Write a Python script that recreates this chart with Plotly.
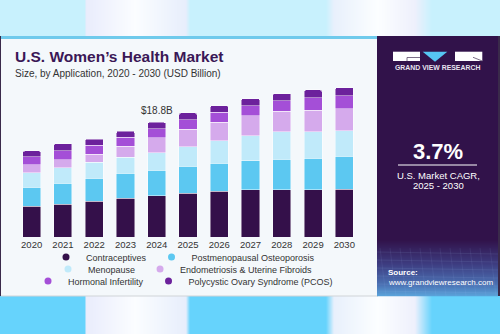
import plotly.graph_objects as go

# U.S. women's health market by application, USD billion
years = ["2020", "2021", "2022", "2023", "2024", "2025",
         "2026", "2027", "2028", "2029", "2030"]
contraceptives = [5.08, 5.41, 5.85, 6.39, 6.73, 7.16, 7.54, 7.77, 7.77, 7.77, 7.82]
osteoporosis = [3.11, 3.44, 3.82, 4.05, 4.21, 4.48, 4.54, 4.69, 4.97, 5.13, 5.41]
menopause = [2.36, 2.51, 2.57, 2.67, 2.90, 3.18, 3.66, 4.10, 4.48, 4.38, 4.21]
endometriosis = [1.26, 1.31, 1.36, 1.80, 2.41, 2.84, 3.07, 3.28, 3.39, 3.49, 3.61]
hormonal = [1.31, 1.48, 1.48, 1.48, 1.52, 1.59, 1.64, 1.70, 1.75, 2.02, 2.07]
pcos = [0.98, 1.15, 0.98, 0.98, 1.03, 1.08, 1.10, 1.15, 1.15, 1.31, 1.38]

series_names = ["Contraceptives", "Postmenopausal Osteoporosis", "Menopause",
                "Endometriosis & Uterine Fibroids", "Hormonal Infertility",
                "Polycystic Ovary Syndrome (PCOS)"]
series_values = [contraceptives, osteoporosis, menopause, endometriosis, hormonal, pcos]
series_colors = ["#34104a", "#5cc8f1", "#c0eafa", "#d5aaec", "#a44fd7", "#6c219c"]
legend_rows = ["legend", "legend", "legend2", "legend2", "legend3", "legend3"]

highlight_year = "2024"
highlight_idx = years.index(highlight_year)
highlight_total = sum(v[highlight_idx] for v in series_values)

FONT = "Liberation Sans"
W, H = 500, 334
ML, MR, MT, MB = 16, 140, 80, 97
PW, PH = W - ML - MR, H - MT - MB
PX_PER_UNIT = 6.1
y_max = PH / PX_PER_UNIT


def px(x):
    return (x - ML) / PW


def py(y):
    return 1 - (y - MT) / PH


def hex_rgb(c):
    c = c.lstrip("#")
    return tuple(int(c[i:i + 2], 16) for i in (0, 2, 4))


def mix(c1, c2, t):
    a, b = hex_rgb(c1), hex_rgb(c2)
    return "rgb(%d,%d,%d)" % tuple(round(a[i] + (b[i] - a[i]) * t) for i in range(3))


def rect(x0, y0, x1, y1, color):
    return dict(type="rect", xref="paper", yref="paper", layer="below",
                x0=px(x0), x1=px(x1), y0=py(y0), y1=py(y1),
                fillcolor=color, line=dict(width=0))


def hgradient(stops, y0, y1):
    """Horizontal colour band built from 1px strips between colour stops."""
    out = []
    for (xa, ca), (xb, cb) in zip(stops[:-1], stops[1:]):
        if ca == cb:
            out.append(rect(xa, y0, xb, y1, ca))
            continue
        for i in range(int(xb - xa)):
            out.append(rect(xa + i, y0, xa + i + 1.2, y1, mix(ca, cb, (i + 0.5) / (xb - xa))))
    return out


def vgradient(stops, x0, x1):
    out = []
    for (ya, ca), (yb, cb) in zip(stops[:-1], stops[1:]):
        for i in range(int(yb - ya)):
            out.append(rect(x0, ya + i, x1, ya + i + 1.2, mix(ca, cb, (i + 0.5) / (yb - ya))))
    return out


shapes = []
top_cyan, bot_cyan = "#c8f1fd", "#66d3fc"
for cyan, y0, y1 in [(top_cyan, 0, 36), (bot_cyan, 296, 334)]:
    stops = [(0, cyan), (85, cyan), (86, "#e9ecfc"), (135, "#fbfdff"),
             (186, "#e7eefc"), (190, cyan), (326, cyan), (334, "#e8f0fc"),
             (378, "#fcfeff"), (415, "#eef0fc"), (432, cyan), (500, cyan)]
    shapes += hgradient(stops, y0, y1)

# side strips and white card
shapes.append(rect(0, 36, 500, 296, "#3a2a4a"))
shapes.append(rect(1, 39, 378, 296, "#f4f8fb"))
shapes.append(rect(1, 36, 378, 39, "#6fcaec"))
shapes.append(rect(1, 295.5, 378, 296.5, "#cfd3d8"))

# dark side panel
panel_dark = "#31124a"
shapes.append(rect(377, 36, 498, 240, panel_dark))
shapes += vgradient([(240, panel_dark), (264, "#3d3c80"), (285, "#4b72b4"), (296, "#5aa3da")], 377, 498)
for gy in [252, 260, 268, 276, 284, 291]:
    shapes.append(dict(type="line", xref="paper", yref="paper", layer="below",
                       x0=px(377), x1=px(498), y0=py(gy), y1=py(gy + 2),
                       line=dict(color="rgba(160,190,240,0.18)", width=0.6)))
for gx in range(380, 498, 10):
    shapes.append(dict(type="line", xref="paper", yref="paper", layer="below",
                       x0=px(gx), x1=px(gx + 6), y0=py(248), y1=py(296),
                       line=dict(color="rgba(160,190,240,0.15)", width=0.6)))

# logo blocks
shapes.append(rect(393, 51.7, 420, 61, "white"))
shapes.append(dict(type="path", xref="paper", yref="paper", layer="below",
                   path="M %f,%f L %f,%f L %f,%f Z" % (px(422.7), py(51.7), px(447.3), py(51.7), px(435), py(61.7)),
                   fillcolor="#56c5f2", line=dict(width=0)))
shapes.append(rect(455, 51.7, 482.3, 61, "white"))
shapes.append(dict(type="path", xref="paper", yref="paper", layer="below",
                   path="M %f,%f L %f,%f L %f,%f" % (px(407), py(61), px(407), py(57.5), px(420), py(57.5)),
                   line=dict(color="#5a4a6a", width=0.8)))
shapes.append(dict(type="line", xref="paper", yref="paper", layer="below",
                   x0=px(473), y0=py(57.3), x1=px(482.3), y1=py(61),
                   line=dict(color="#5a4a6a", width=0.8)))
# rule under the growth figure
shapes.append(dict(type="line", xref="paper", yref="paper", layer="above",
                   x0=px(398), x1=px(477), y0=py(165), y1=py(165),
                   line=dict(color="white", width=1)))

fig = go.Figure()
for name, vals, color in zip(series_names, series_values, series_colors):
    fig.add_trace(go.Bar(
        x=years, y=vals, name=name,
        marker=dict(color=color, line=dict(color="rgba(255,255,255,0.65)", width=0.7)),
        showlegend=False, legendgroup=name, hoverinfo="x+y+name"))

# round legend keys live on a hidden helper axis pair
for name, color, lg in zip(series_names, series_colors, legend_rows):
    fig.add_trace(go.Scatter(
        x=[None], y=[None], mode="markers", name=name, legend=lg, legendgroup=name,
        xaxis="x2", yaxis="y2", hoverinfo="skip",
        marker=dict(color=color, size=7, symbol="circle")))


def ann(x, y, text, size, color="white", bold=False, xanchor="center"):
    if bold:
        text = "<b>%s</b>" % text
    return dict(xref="paper", yref="paper", x=px(x), y=py(y), text=text, showarrow=False,
                xanchor=xanchor, yanchor="middle", font=dict(family=FONT, size=size, color=color))


annotations = [
    ann(13, 56.5, "U.S. Women’s Health Market", 15.5, "#3a1756", True, "left"),
    ann(13, 73, "Size, by Application, 2020 - 2030 (USD Billion)", 10, "#333333", False, "left"),
    ann(437.5, 67, "GRAND VIEW RESEARCH", 6.9, "#e8e4f0", True),
    ann(438, 151.5, "3.7%", 22, "white", True),
    ann(438, 175.5, "U.S. Market CAGR,", 9.5, "white"),
    ann(438, 185.5, "2025 - 2030", 9.5, "white"),
    ann(386, 272, "Source:", 8, "white", True, "left"),
    ann(386, 282, "www.grandviewresearch.com", 8, "white", False, "left"),
    # total label above the highlighted year's stack
    dict(x=highlight_idx, y=highlight_total, xref="x", yref="y", text="$%.1fB" % highlight_total,
         showarrow=False, yanchor="bottom", yshift=4,
         font=dict(family=FONT, size=10, color="#333333")),
]

legend_common = dict(orientation="h", xref="container", yref="container", x=183 / W,
                     xanchor="center", yanchor="middle", bgcolor="rgba(0,0,0,0)",
                     font=dict(family=FONT, size=9, color="#333333"),
                     itemclick=False, itemdoubleclick=False, tracegroupgap=0)

fig.update_layout(
    width=W, height=H, barmode="stack", bargap=0.42, barcornerradius=2,
    margin=dict(l=ML, r=MR, t=MT, b=MB, pad=0, autoexpand=False),
    paper_bgcolor="#3a2a4a", plot_bgcolor="rgba(0,0,0,0)",
    xaxis=dict(type="category", categoryorder="array", categoryarray=years,
               range=[-0.5, len(years) - 0.5], showgrid=False, zeroline=False, showline=False,
               ticks="", tickfont=dict(family=FONT, size=9.5, color="#333333"), fixedrange=True),
    yaxis=dict(range=[0, y_max], visible=False, fixedrange=True),
    xaxis2=dict(overlaying="x", visible=False, range=[0, 1], fixedrange=True),
    yaxis2=dict(overlaying="y", visible=False, range=[0, 1], fixedrange=True),
    legend=dict(legend_common, y=1 - 257 / H),
    legend2=dict(legend_common, y=1 - 269 / H),
    legend3=dict(legend_common, y=1 - 281 / H),
    shapes=shapes, annotations=annotations, showlegend=True,
)

fig.write_html("out.html", config={"displayModeBar": False})
